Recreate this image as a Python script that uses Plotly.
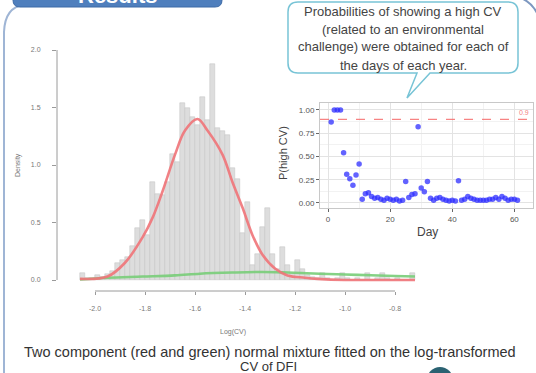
import plotly.graph_objects as go

W, H = 536, 373

# ---------------- data ----------------
# histogram of log(CV): bins of width 0.02 starting at -2.06
bin_start = -2.06
bin_width = 0.02
hist_density = [0.06, 0.02, 0.02, 0.04, 0.03, 0.05, 0.08, 0.15, 0.17, 0.20,
                0.30, 0.45, 0.52, 0.39, 0.85, 0.75, 0.74, 0.85, 1.10, 1.03,
                1.54, 1.50, 1.42, 1.35, 1.59, 1.39, 1.88, 1.32, 1.30, 1.26,
                0.97, 0.88, 0.41, 0.68, 0.13, 0.23, 0.46, 0.63, 0.23, 0.10,
                0.29, 0.13, 0.05, 0.17, 0.10, 0.04, 0.03, 0.02, 0.06, 0.02,
                0.00, 0.02, 0.06, 0.02, 0.00, 0.02, 0.00, 0.06, 0.00, 0.02,
                0.06, 0.02, 0.00, 0.02, 0.00, 0.00, 0.06]

# fitted mixture components
red_x = [-2.06, -1.95, -1.88, -1.81, -1.77, -1.73, -1.68, -1.64, -1.59, -1.55,
         -1.49, -1.45, -1.41, -1.37, -1.33, -1.28, -1.23, -1.16, -1.11, -1.0,
         -0.9, -0.72]
red_y = [0.01, 0.03, 0.15, 0.37, 0.54, 0.77, 1.09, 1.30, 1.40, 1.30,
         1.09, 0.85, 0.63, 0.39, 0.22, 0.10, 0.04, 0.02, 0.01, 0.0,
         0.0, 0.0]
green_x = [-2.06, -1.95, -1.81, -1.68, -1.58, -1.45, -1.33, -1.23, -1.1, -0.95, -0.8, -0.72]
green_y = [0.005, 0.02, 0.03, 0.04, 0.055, 0.065, 0.07, 0.065, 0.055, 0.045, 0.035, 0.03]

hist_xticks = [-2.0, -1.8, -1.6, -1.4, -1.2, -1.0, -0.8]
hist_xticktext = ["-2.0", "-1.8", "-1.6", "-1.4", "-1.2", "-1.0", "-0.8"]
hist_yticks = [0, 0.5, 1.0, 1.5, 2.0]
hist_yticktext = ["0.0", "0.5", "1.0", "1.5", "2.0"]

# inset: probability of high CV per day
days = list(range(1, 62))
p_high = [0.87, 1.00, 1.00, 1.00, 0.54, 0.31, 0.26, 0.19, 0.30, 0.42,
          0.04, 0.10, 0.11, 0.07, 0.05, 0.06, 0.04, 0.03, 0.05, 0.04,
          0.03, 0.04, 0.02, 0.03, 0.23, 0.06, 0.09, 0.10, 0.82, 0.16,
          0.12, 0.23, 0.05, 0.03, 0.05, 0.06, 0.04, 0.03, 0.02, 0.03,
          0.02, 0.24, 0.03, 0.04, 0.07, 0.05, 0.04, 0.03, 0.03, 0.03,
          0.03, 0.04, 0.04, 0.06, 0.04, 0.07, 0.05, 0.03, 0.04, 0.04,
          0.03]
threshold = 0.9
inset_xticks = [0, 20, 40, 60]
inset_yticks = [0, 0.25, 0.5, 0.75, 1.0]
inset_yticktext = ["0.00", "0.25", "0.50", "0.75", "1.00"]

callout_lines = ["Probabilities of showing a high CV",
                 "(related to an environmental",
                 "challenge) were obtained for each of",
                 "the days of each year."]
caption_lines = ["Two component (red and green) normal mixture fitted on the log-transformed",
                 "CV of DFI"]

# ---------------- helpers ----------------
def px(x):
    return x / W

def py(y):
    return 1 - y / H

def path(cmds):
    out = []
    for c in cmds:
        if c[0] == "Z":
            out.append("Z")
        elif c[0] in ("M", "L"):
            out.append(f"{c[0]} {px(c[1]):.5f},{py(c[2]):.5f}")
        elif c[0] == "Q":
            out.append(f"Q {px(c[1]):.5f},{py(c[2]):.5f} {px(c[3]):.5f},{py(c[4]):.5f}")
    return " ".join(out)

centers = [bin_start + bin_width * (k + 0.5) for k in range(len(hist_density))]

fig = go.Figure()

fig.add_trace(go.Bar(x=centers, y=hist_density, width=bin_width,
                     marker=dict(color="#dddddd", line=dict(color="#c2c2c2", width=0.5)),
                     xaxis="x", yaxis="y"))
fig.add_trace(go.Scatter(x=green_x, y=green_y, mode="lines", line_shape="spline",
                         line=dict(color="rgba(120,205,120,0.9)", width=2.6),
                         xaxis="x", yaxis="y"))
fig.add_trace(go.Scatter(x=red_x, y=red_y, mode="lines", line_shape="spline",
                         line=dict(color="rgba(240,115,120,0.9)", width=2.6),
                         xaxis="x", yaxis="y"))

fig.add_trace(go.Scatter(x=days, y=p_high, mode="markers",
                         marker=dict(color="rgba(45,45,255,0.75)", size=5.5, line=dict(width=0)),
                         xaxis="x2", yaxis="y2"))

# histogram axes: px 57..418 horizontally, py 45..291 vertically
x_lo = -2.0 + (57 - 95) * 0.004
x_hi = -2.0 + (418 - 95) * 0.004
y_lo = (280 - 291) / 115
y_hi = (280 - 45) / 115

fig.update_layout(
    width=W, height=H, margin=dict(l=0, r=0, t=0, b=0),
    paper_bgcolor="white", plot_bgcolor="white", showlegend=False, bargap=0,
    font=dict(family="Liberation Sans, Arial, sans-serif"),
    xaxis=dict(domain=[px(57), px(418)], range=[x_lo, x_hi], anchor="y",
               tickvals=hist_xticks, ticktext=hist_xticktext, ticks="outside",
               ticklen=3, tickcolor="#9a9a9a", tickfont=dict(size=7, color="#777"),
               ticklabelstandoff=8, showgrid=False, zeroline=False, showline=False),
    yaxis=dict(domain=[py(291), py(45)], range=[y_lo, y_hi], anchor="x",
               tickvals=hist_yticks, ticktext=hist_yticktext, ticks="outside",
               ticklen=4, tickcolor="#9a9a9a", tickfont=dict(size=7, color="#777"),
               ticklabelstandoff=10, showgrid=False, zeroline=False, showline=False),
    xaxis2=dict(domain=[px(320), px(533)], range=[-2.6, 66], anchor="y2",
                tickvals=inset_xticks, ticks="outside", ticklen=3, tickcolor="#666",
                tickfont=dict(size=8, color="#555"), showgrid=True, gridcolor="#e3e3e3",
                minor=dict(dtick=10, showgrid=True, gridcolor="#f2f2f2"),
                zeroline=False, showline=True, linecolor="#c8c8c8", mirror=True),
    yaxis2=dict(domain=[py(208), py(103)], range=[-0.054, 1.075], anchor="x2",
                tickvals=inset_yticks, ticktext=inset_yticktext, ticks="outside",
                ticklen=3, tickcolor="#666", tickfont=dict(size=8, color="#555"),
                showgrid=True, gridcolor="#e3e3e3",
                minor=dict(dtick=0.125, showgrid=True, gridcolor="#f2f2f2"),
                zeroline=False, showline=True, linecolor="#c8c8c8", mirror=True),
)

shapes = []
# R-style axis lines
shapes.append(dict(type="line", xref="x", yref="y domain", x0=hist_xticks[0], x1=hist_xticks[-1],
                   y0=0, y1=0, line=dict(color="#9a9a9a", width=1)))
shapes.append(dict(type="line", xref="x domain", yref="y", x0=0, x1=0,
                   y0=hist_yticks[0], y1=hist_yticks[-1], line=dict(color="#9a9a9a", width=1)))
# threshold line in inset
shapes.append(dict(type="line", xref="x2 domain", yref="y2", x0=0, x1=1, y0=threshold, y1=threshold,
                   line=dict(color="rgba(245,100,100,0.8)", width=1.3, dash="dash")))
# left frame
shapes.append(dict(type="path", xref="paper", yref="paper",
                   path=path([("M", 24, 5), ("Q", 5, 7, 4, 32), ("L", 4, 380)]),
                   line=dict(color="#9fb5d5", width=2)))
# right top frame corner
shapes.append(dict(type="path", xref="paper", yref="paper",
                   path=path([("M", 518, -3), ("Q", 531, 1, 537, 13)]),
                   line=dict(color="#7d98c0", width=2)))
# banner
shapes.append(dict(type="path", xref="paper", yref="paper",
                   path=path([("M", 13, -30), ("L", 13, 0), ("Q", 13, 7, 20, 7), ("L", 215, 7),
                              ("Q", 222, 7, 222, 0), ("L", 222, -30), ("Z",)]),
                   fillcolor="#4f7fbd", line=dict(color="#3d6aa6", width=1)))
# callout
shapes.append(dict(type="path", xref="paper", yref="paper",
                   path=path([("M", 298, 2), ("L", 508, 2), ("Q", 518, 2, 518, 12), ("L", 518, 63),
                              ("Q", 518, 73, 508, 73), ("L", 430, 73), ("L", 407, 98), ("L", 417, 73),
                              ("L", 298, 73), ("Q", 288, 73, 288, 63), ("L", 288, 12),
                              ("Q", 288, 2, 298, 2), ("Z",)]),
                   fillcolor="white", line=dict(color="#78c4d6", width=1.5)))
# bottom circle
shapes.append(dict(type="circle", xref="paper", yref="paper",
                   x0=px(427), x1=px(453), y0=py(393), y1=py(367),
                   fillcolor="#2b6272", line=dict(width=0)))
fig.update_layout(shapes=shapes)

ann = []
ann.append(dict(x=px(117), y=py(-4), xref="paper", yref="paper", text="<b>Results</b>",
                showarrow=False, font=dict(size=22, color="white"), xanchor="center", yanchor="middle"))
for i, (t, yy) in enumerate(zip(callout_lines, [11, 29, 47, 65])):
    ann.append(dict(x=px(403), y=py(yy), xref="paper", yref="paper", text=t, showarrow=False,
                    font=dict(size=13, color="#444"), xanchor="center", yanchor="middle"))
ann.append(dict(x=px(18), y=py(165), xref="paper", yref="paper", text="Density", textangle=-90,
                showarrow=False, font=dict(size=7, color="#777"), xanchor="center", yanchor="middle"))
ann.append(dict(x=px(233), y=py(332), xref="paper", yref="paper", text="Log(CV)",
                showarrow=False, font=dict(size=7, color="#777"), xanchor="center", yanchor="middle"))
ann.append(dict(x=px(283), y=py(153), xref="paper", yref="paper", text="P(high CV)", textangle=-90,
                showarrow=False, font=dict(size=11, color="#444"), xanchor="center", yanchor="middle"))
ann.append(dict(x=px(427), y=py(232), xref="paper", yref="paper", text="Day",
                showarrow=False, font=dict(size=12, color="#444"), xanchor="center", yanchor="middle"))
ann.append(dict(x=px(524), y=py(113), xref="paper", yref="paper", text="0.9",
                showarrow=False, font=dict(size=7, color="rgba(240,90,90,0.8)"), xanchor="center", yanchor="middle"))
ann.append(dict(x=px(270), y=py(352), xref="paper", yref="paper", text=caption_lines[0],
                showarrow=False, font=dict(size=14.5, color="#333"), xanchor="center", yanchor="middle"))
ann.append(dict(x=px(268), y=py(366), xref="paper", yref="paper", text=caption_lines[1],
                showarrow=False, font=dict(size=13, color="#333"), xanchor="center", yanchor="middle"))
fig.update_layout(annotations=ann)

fig.write_html("out.html", config={"displayModeBar": False},
               post_script="document.body.style.margin='0';")
